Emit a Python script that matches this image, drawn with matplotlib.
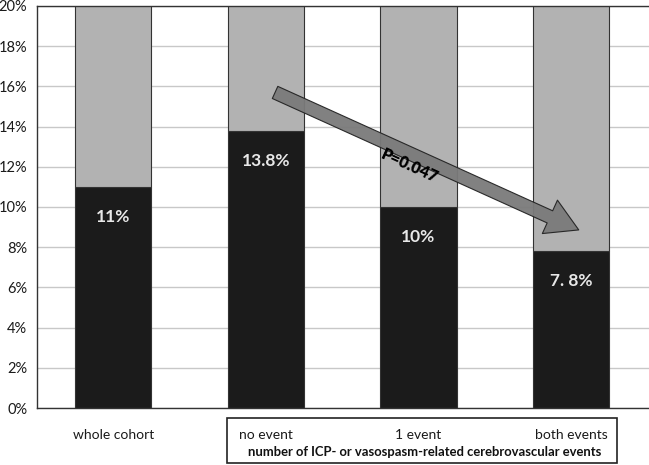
import matplotlib
matplotlib.use("Agg")
import matplotlib.pyplot as plt
from matplotlib.patches import Rectangle

categories = ["whole cohort", "no event", "1 event", "both events"]
values = [11.0, 13.8, 10.0, 7.8]
value_labels = ["11%", "13.8%", "10%", "7. 8%"]
yticks = [0, 2, 4, 6, 8, 10, 12, 14, 16, 18, 20]
ytick_labels = [f"{v}%" for v in yticks]
p_text = "P=0.047"
group_title = "number of ICP- or vasospasm-related cerebrovascular events"

plt.rcParams['font.family'] = ['Lato', 'DejaVu Sans']

fig = plt.figure(figsize=(6.49, 4.65), dpi=100)
W, H = 649, 465
ax = fig.add_axes([37 / W, 1 - 408 / H, (652 - 37) / W, (408 - 6) / H])

x = list(range(len(categories)))
rest = [100 - v for v in values]
ax.bar(x, values, width=0.5, color="#1b1b1b", edgecolor="#333333", linewidth=0.8, zorder=2)
ax.bar(x, rest, bottom=values, width=0.5, color="#b2b2b2", edgecolor="#333333", linewidth=0.8, zorder=2)

for xi, v, lab in zip(x, values, value_labels):
    ax.text(xi, v - 1.5, lab, ha="center", va="center", color="#e8e8e8",
            fontsize=12.5, fontweight="bold", zorder=4)

ax.set_xlim(-0.5, 3.53)
ax.set_ylim(0, 20)
ax.set_yticks(yticks)
ax.set_yticklabels(ytick_labels, fontsize=10.5, color="#1a1a1a")
ax.yaxis.grid(True, color="#c8c8c8", linewidth=1.0, zorder=0)
ax.set_axisbelow(True)
ax.tick_params(axis="y", length=0, pad=7)
ax.set_xticks(x)
ax.set_xticklabels(categories, fontsize=10, color="#1a1a1a")
ax.tick_params(axis="x", length=0, pad=15)
for s in ["left", "top", "bottom"]:
    ax.spines[s].set_color("#333333")
    ax.spines[s].set_linewidth(1.0)
ax.spines["right"].set_visible(False)

# trend arrow
ax.annotate("", xy=(3.05, 8.86), xytext=(1.06, 15.7),
            arrowprops=dict(arrowstyle="simple,head_width=2.2,head_length=1.9,tail_width=0.8",
                            facecolor="#7a7a7a", edgecolor="#222222", linewidth=0.8, alpha=0.95,
                            mutation_scale=12, shrinkA=0, shrinkB=0),
            zorder=5)
ax.text(1.94, 12.05, p_text, rotation=-24.5, rotation_mode="anchor",
        ha="center", va="center", fontsize=11.5, fontweight="heavy", color="#000000", zorder=7)

# group box below the axis
fig.patches.append(Rectangle((227 / W, 1 - 463 / H), (617 - 227) / W, (463 - 418) / H,
                             transform=fig.transFigure, fill=False, edgecolor="#222222",
                             linewidth=1.2))
fig.text(425 / W, 1 - 452 / H, group_title, ha="center", va="center",
         fontsize=9.4, fontweight="bold", color="#111111")

fig.savefig("out.png", dpi=100)
